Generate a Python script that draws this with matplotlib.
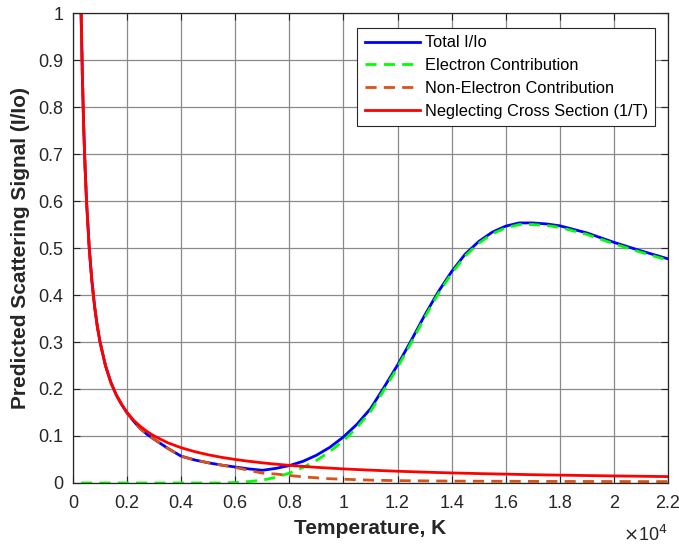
import matplotlib
matplotlib.use("Agg")
import matplotlib.pyplot as plt
import numpy as np

plt.rcParams['font.family'] = ['Liberation Sans', 'DejaVu Sans']

# Temperature samples (K)
temperature = [300, 350, 400, 450, 500, 600, 700, 800, 900, 1000, 1200, 1400,
               1600, 1800, 2000, 2250, 2500, 2750, 3000, 3500, 4000, 4500,
               5000, 5500, 6000, 6500, 7000, 7500, 8000, 8500, 9000, 9500,
               10000, 10500, 11000, 11500, 12000, 12500, 13000, 13500, 14000,
               14500, 15000, 15500, 16000, 16500, 17000, 17500, 18000, 19000,
               20000, 21000, 22000]

# Scattering from electrons
electron = [0, 0, 0, 0, 0, 0, 0, 0, 0, 0, 0, 0,
            0, 0, 0, 0, 0, 0, 0, 0, 0, 0,
            0, 0, 0.001, 0.003, 0.006, 0.012, 0.021, 0.033, 0.048, 0.067,
            0.090, 0.118, 0.152, 0.198, 0.246, 0.298, 0.352, 0.402, 0.446,
            0.483, 0.510, 0.530, 0.543, 0.550, 0.550, 0.548, 0.544, 0.529,
            0.509, 0.491, 0.474]

# Scattering from neutrals / ions
non_electron = [1.0, 0.857, 0.75, 0.667, 0.6, 0.5, 0.429, 0.375, 0.333, 0.3,
                0.25, 0.214, 0.1875, 0.167, 0.149, 0.131, 0.115, 0.103, 0.093,
                0.074, 0.057, 0.049, 0.043, 0.038, 0.033, 0.027, 0.021, 0.019,
                0.016, 0.013, 0.011, 0.009, 0.008, 0.007, 0.006, 0.0055, 0.005,
                0.0047, 0.0045, 0.0043, 0.004, 0.0039, 0.0038, 0.0037, 0.0036,
                0.0035, 0.0034, 0.0033, 0.0033, 0.0032, 0.0031, 0.003, 0.003]

# Signal neglecting the cross section (pure 1/T density scaling)
one_over_t = [1.0, 0.857, 0.75, 0.667, 0.6, 0.5, 0.429, 0.375, 0.333, 0.3,
              0.25, 0.214, 0.1875, 0.167, 0.15, 0.133, 0.12, 0.109, 0.1,
              0.0857, 0.075, 0.0667, 0.06, 0.0545, 0.05, 0.0462, 0.0429, 0.04,
              0.0375, 0.0353, 0.0333, 0.0316, 0.03, 0.0286, 0.0273, 0.0261,
              0.025, 0.024, 0.0231, 0.0222, 0.0214, 0.0207, 0.02, 0.0194,
              0.0188, 0.0182, 0.0176, 0.0171, 0.0167, 0.0158, 0.015, 0.0143,
              0.0136]

total = list(np.array(electron) + np.array(non_electron))

x_ticks = [0, 2000, 4000, 6000, 8000, 10000, 12000, 14000, 16000, 18000, 20000, 22000]
x_tick_labels = ['0', '0.2', '0.4', '0.6', '0.8', '1', '1.2', '1.4', '1.6', '1.8', '2', '2.2']
y_ticks = [0, 0.1, 0.2, 0.3, 0.4, 0.5, 0.6, 0.7, 0.8, 0.9, 1.0]
y_tick_labels = ['0', '0.1', '0.2', '0.3', '0.4', '0.5', '0.6', '0.7', '0.8', '0.9', '1']

fig = plt.figure(figsize=(6.79, 5.45), dpi=100)
ax = fig.add_axes([0.1075, 0.1138, 0.8763, 0.8622])

ink = '#262626'
dash = (0, (4, 2.6))
ax.plot(temperature, total, color=(0, 0, 1), lw=2, label='Total I/Io')
ax.plot(temperature, electron, color=(0, 1, 0), lw=2, ls=dash,
        label='Electron Contribution')
ax.plot(temperature, non_electron, color=(0.85, 0.325, 0.098), lw=2,
        ls=dash, label='Non-Electron Contribution')
ax.plot(temperature, one_over_t, color=(1, 0, 0), lw=2,
        label='Neglecting Cross Section (1/T)')

ax.set_xlim(0, 22000)
ax.set_ylim(0, 1)
ax.set_xticks(x_ticks)
ax.set_xticklabels(x_tick_labels)
ax.set_yticks(y_ticks)
ax.set_yticklabels(y_tick_labels)
ax.tick_params(direction='in', length=5, width=0.8, colors=ink,
               labelsize=13, top=True, right=True)
ax.tick_params(axis='x', pad=9)
ax.tick_params(axis='y', pad=7)
ax.grid(True, color='#8a8a8a', lw=0.9)
ax.set_axisbelow(True)
for s in ax.spines.values():
    s.set_color(ink)
    s.set_linewidth(0.9)

ax.set_xlabel('Temperature, K', fontsize=15, fontweight='bold', color=ink, labelpad=5)
ax.set_ylabel('Predicted Scattering Signal (I/Io)', fontsize=15, fontweight='bold',
              color=ink, labelpad=6)
ax.text(1.0, -0.09, r'$\times$10$^{4}$', transform=ax.transAxes, ha='right',
        va='top', fontsize=13, color=ink)

leg = ax.legend(loc='upper right', bbox_to_anchor=(0.978, 0.968), fontsize=11.8,
                borderaxespad=0, handlelength=3.35, handletextpad=0.3,
                borderpad=0.45, labelspacing=0.47, fancybox=False,
                framealpha=1, edgecolor=ink)
leg.get_frame().set_linewidth(0.8)

fig.savefig('out.png', dpi=100)
